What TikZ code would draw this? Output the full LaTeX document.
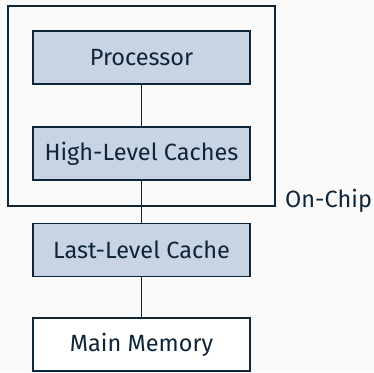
\documentclass[tikz,border=0pt]{standalone}
\usepackage{fontspec}
\setmainfont{Fira Sans}
\definecolor{dk}{HTML}{0F2538}
\definecolor{lt}{HTML}{C8D4E3}
\definecolor{bg}{HTML}{FAFAFA}
\begin{document}
\begin{tikzpicture}[x=1pt,y=-1pt,
  txt/.style={text=dk,font=\fontsize{23.5}{28}\selectfont},
  box/.style={txt,draw=dk,line width=1.6pt,minimum width=217pt,minimum height=53pt,inner sep=0pt},
  cache/.style={box,fill=lt},
  mem/.style={box,fill=white},
  chip/.style={draw=dk,line width=2.8pt},
  link/.style={draw=dk,line width=1.1pt}]
\fill[bg] (0,0) rectangle (374,372);
\useasboundingbox (0,0) rectangle (374,372);
\draw[chip] (8,6) rectangle (275,206);
\node[cache] (p) at (141.5,57.5) {Processor};
\node[cache] (h) at (141.5,153.5) {High-Level Caches};
\node[cache] (l) at (141.5,250) {Last-Level Cache};
\node[mem] (m) at (141.5,344.5) {Main Memory};
\node[txt,anchor=base west,inner sep=0pt] (lab) at (285,207) {On-Chip};
\draw[link] (p) -- (h);
\draw[link] (h) -- (l);
\draw[link] (l) -- (m);
\end{tikzpicture}
\end{document}
